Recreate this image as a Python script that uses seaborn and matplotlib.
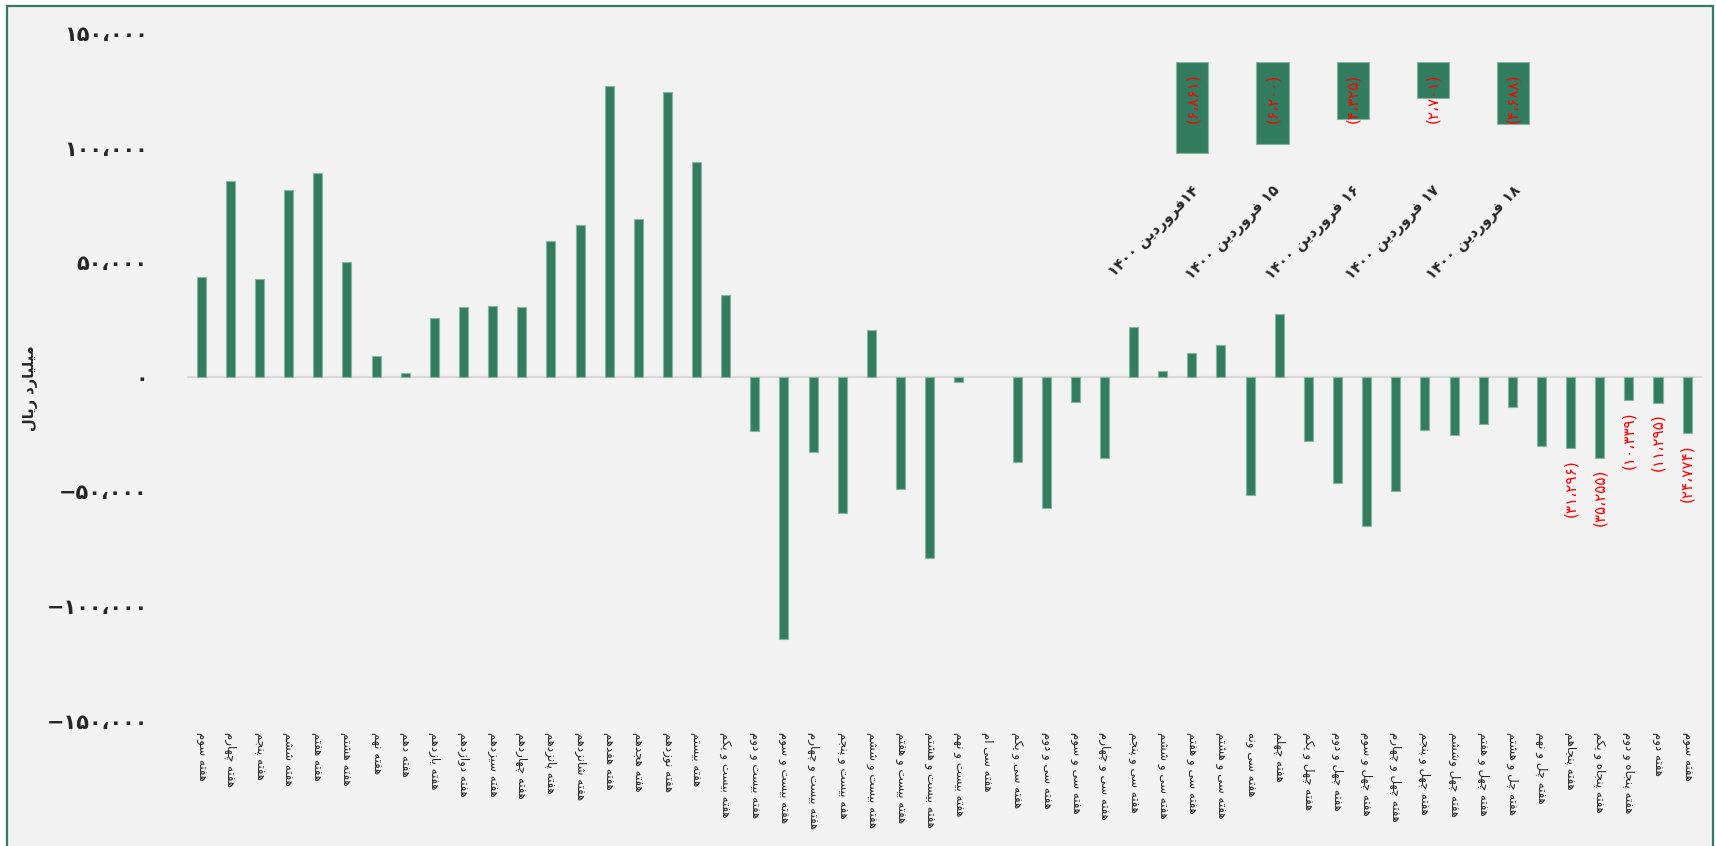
import re

import matplotlib

matplotlib.use("Agg")
import matplotlib.pyplot as plt
from matplotlib.patches import Rectangle
import numpy as np
import seaborn as sns

# Data (billion rials, weekly net flow)
week_labels = [
    "هفته سوم", "هفته چهارم", "هفته پنجم", "هفته ششم", "هفته هفتم", "هفته هشتم",
    "هفته نهم", "هفته دهم", "هفته یازدهم", "هفته دوازدهم", "هفته سیزدهم",
    "هفته چهاردهم", "هفته پانزدهم", "هفته شانزدهم", "هفته هفدهم", "هفته هجدهم",
    "هفته نوزدهم", "هفته بیستم", "هفته بیست و یکم", "هفته بیست و دوم",
    "هفته بیست و سوم", "هفته بیست و چهارم", "هفه بیست و پنجم", "هفته بیست و ششم",
    "هفته بیست و هفتم", "هفته بیست و هشتم", "هفته بیست و نهم", "هفته سی ام",
    "هفته سی و یکم", "هفته سی و دوم", "هفته سی و سوم", "هفته سی و چهارم",
    "هفته سی و پنجم", "هفته سی و ششم", "هفته سی و هفتم", "هفته سی و هشتم",
    "هفته سی ونه", "هفته چهلم", "هفته چهل و یکم", "هفته چهل و دوم",
    "هفته چهل و سوم", "هفته چهل و چهارم", "هفته چهل و پنجم", "هفته چهل وششم",
    "هفته چهل و هفتم", "هفته چل و هشتم", "هفته چل و نهم", "هفته پنجاهم",
    "هفته پنجاه و یکم", "هفته پنجاه و دوم", "هفته دوم", "هفته سوم",
]
week_values = [
    43600, 85400, 42600, 81500, 88700, 49900, 9200, 1500, 25800, 30400,
    30800, 30400, 59300, 66200, 126800, 68800, 124200, 93800, 35800, -23600,
    -114600, -32900, -59300, 20200, -49100, -79000, -2500, 0, -37300, -57200,
    -10900, -35500, 21700, 2500, 10500, 13700, -51700, 27500, -28200, -46500,
    -65100, -49900, -23100, -25600, -20500, -13400, -30400, -31296, -35255,
    -10339, -11295, -24774,
]
n_labeled = 5  # the last weeks carry red value labels

inset_dates = [
    "۱۴فروردین ۱۴۰۰", "۱۵ فروردین ۱۴۰۰", "۱۶ فروردین ۱۴۰۰",
    "۱۷ فروردین ۱۴۰۰", "۱۸ فروردین ۱۴۰۰",
]
inset_values = [-6861, -6200, -4325, -2701, -4688]

y_ticks = [-150000, -100000, -50000, 0, 50000, 100000, 150000]
y_label = "میلیارد ریال"

BAR = "#327C60"
EDGE = "#86B5A1"
RED = "#FF0000"

# ---- minimal Persian shaping (matplotlib has no complex text layout) ----
FORMS = {  # isolated, final, initial, medial
    "ا": (0xFE8D, 0xFE8E), "آ": (0xFE81, 0xFE82), "د": (0xFEA9, 0xFEAA),
    "ذ": (0xFEAB, 0xFEAC), "ر": (0xFEAD, 0xFEAE), "ز": (0xFEAF, 0xFEB0),
    "ژ": (0xFB8A, 0xFB8B), "و": (0xFEED, 0xFEEE),
    "ب": (0xFE8F, 0xFE90, 0xFE91, 0xFE92), "پ": (0xFB56, 0xFB57, 0xFB58, 0xFB59),
    "ت": (0xFE95, 0xFE96, 0xFE97, 0xFE98), "ج": (0xFE9D, 0xFE9E, 0xFE9F, 0xFEA0),
    "چ": (0xFB7A, 0xFB7B, 0xFB7C, 0xFB7D), "ح": (0xFEA1, 0xFEA2, 0xFEA3, 0xFEA4),
    "خ": (0xFEA5, 0xFEA6, 0xFEA7, 0xFEA8), "س": (0xFEB1, 0xFEB2, 0xFEB3, 0xFEB4),
    "ش": (0xFEB5, 0xFEB6, 0xFEB7, 0xFEB8), "ع": (0xFEC9, 0xFECA, 0xFECB, 0xFECC),
    "ف": (0xFED1, 0xFED2, 0xFED3, 0xFED4), "ق": (0xFED5, 0xFED6, 0xFED7, 0xFED8),
    "ک": (0xFB8E, 0xFB8F, 0xFB90, 0xFB91), "گ": (0xFB92, 0xFB93, 0xFB94, 0xFB95),
    "ل": (0xFEDD, 0xFEDE, 0xFEDF, 0xFEE0), "م": (0xFEE1, 0xFEE2, 0xFEE3, 0xFEE4),
    "ن": (0xFEE5, 0xFEE6, 0xFEE7, 0xFEE8), "ه": (0xFEE9, 0xFEEA, 0xFEEB, 0xFEEC),
    "ی": (0xFBFC, 0xFBFD, 0xFBFE, 0xFBFF),
}


def shape_word(word):
    out = []
    for i, ch in enumerate(word):
        if ch not in FORMS:
            out.append(ch)
            continue
        prev = word[i - 1] if i > 0 else ""
        nxt = word[i + 1] if i + 1 < len(word) else ""
        join_prev = prev in FORMS and len(FORMS[prev]) == 4
        join_next = len(FORMS[ch]) == 4 and nxt in FORMS
        f = FORMS[ch]
        if join_prev and join_next:
            code = f[3]
        elif join_prev:
            code = f[1]
        elif join_next:
            code = f[2]
        else:
            code = f[0]
        out.append(chr(code))
    return "".join(out)


def rtl(text):
    runs = re.findall(r"[۰-۹،]+|[^۰-۹،]+", text)
    visual = []
    for run in reversed(runs):
        if re.match(r"[۰-۹]", run):
            visual.append(run)
        else:
            words = run.split(" ")
            visual.append(" ".join(shape_word(w)[::-1] for w in reversed(words)))
    return "".join(visual)


FA = str.maketrans("0123456789", "۰۱۲۳۴۵۶۷۸۹")


def fa_num(v):
    return f"{abs(int(v)):,}".replace(",", "،").translate(FA)


# ---- figure ----
sns.set_theme(style="white")
plt.rcParams["font.family"] = ["DejaVu Sans"]
plt.rcParams["axes.unicode_minus"] = True

W, H = 1716, 846
fig = plt.figure(figsize=(W / 100, H / 100), dpi=100, facecolor="white")
fig.patches.append(Rectangle((7 / W, -0.01), (1713 - 7) / W, 1.01 - 6 / H,
                             transform=fig.transFigure, facecolor="#F2F2F2",
                             edgecolor="#2F7D5E", linewidth=1.6, zorder=-5))

ax = fig.add_axes([186.7 / W, 1 - 720.5 / H, 1515 / W, 687.6 / H])
ax.set_facecolor("none")
pos = np.arange(len(week_values))
sns.barplot(x=pos, y=week_values, color=BAR, saturation=1, width=0.31,
            edgecolor=EDGE, linewidth=0.8, ax=ax)
for p in ax.patches:
    if p.get_height() == 0:
        p.set_visible(False)
ax.axhline(0, color="#D9D9D9", linewidth=1.5, zorder=0.5)
ax.set_xlim(-0.5, len(week_values) - 0.5)
ax.set_ylim(-150000, 150000)
ax.set_yticks(y_ticks)
ax.set_yticklabels([("−" if t < 0 else "") + fa_num(t) for t in y_ticks],
                   fontsize=15, fontweight="bold")
ax.tick_params(axis="y", length=0, pad=28)
ax.set_xticks(pos)
ax.set_xticklabels([rtl(s) for s in week_labels], rotation=270, fontsize=8.5,
                   va="top", ha="center")
ax.tick_params(axis="x", length=0, pad=8)
for s in ax.spines.values():
    s.set_visible(False)
ax.set_xlabel("")
ax.set_ylabel("")
fig.text(30 / W, 1 - 388 / H, rtl(y_label), rotation=90, fontsize=10.5,
         fontweight="bold", ha="center", va="center")

for i in range(len(week_values) - n_labeled, len(week_values)):
    v = week_values[i]
    ax.annotate("(" + fa_num(v) + ")", xy=(i, v), xytext=(0, -11),
                textcoords="offset pixels", rotation=90, ha="center", va="top",
                color=RED, fontsize=11)

# ---- inset: daily values ----
ins = fig.add_axes([1152.2 / W, 1 - 180.8 / H, 400.9 / W, 118.5 / H])
ins.set_facecolor("none")
ipos = np.arange(len(inset_values))
sns.barplot(x=ipos, y=inset_values, color=BAR, saturation=1, width=0.4,
            edgecolor=EDGE, linewidth=0.8, ax=ins)
ins.set_xlim(-0.5, len(inset_values) - 0.5)
ins.set_ylim(-9000, 0)
ins.set_yticks([])
ins.set_xticks(ipos)
ins.set_xticklabels([rtl(s) for s in inset_dates], rotation=45, fontsize=10.5,
                    fontweight="bold", ha="right", va="top",
                    rotation_mode="anchor")
ins.tick_params(axis="x", length=0, pad=2)
for s in ins.spines.values():
    s.set_visible(False)
ins.set_xlabel("")
ins.set_ylabel("")
for i, v in enumerate(inset_values):
    ins.annotate("(" + fa_num(v) + ")", xy=(i, 0), xytext=(0, -11),
                 textcoords="offset pixels", rotation=90, ha="center", va="top",
                 color=RED, fontsize=11)

fig.savefig("out.png", dpi=100)
